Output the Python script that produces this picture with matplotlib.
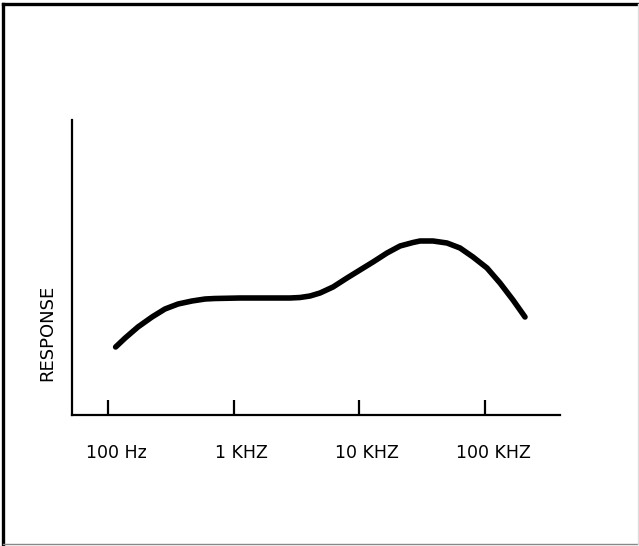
import matplotlib
matplotlib.use("Agg")
import matplotlib.pyplot as plt
import matplotlib.transforms as mtransforms
from matplotlib.lines import Line2D

# Data (frequency in Hz, relative response)
freq_hz = [115, 137, 173, 224, 284, 361, 466, 592, 710, 1123, 1775, 2807,
           3372, 4050, 4864, 6172, 7977, 10120, 12850, 16600, 21070, 26730,
           30390, 38570, 49840, 63240, 80260, 103700, 131600, 167000, 208100]
response = [68, 77, 88, 98, 106, 111, 114, 116, 116.5, 117, 117, 117,
            117.5, 119, 122, 128, 137, 145, 153, 162, 169, 172.5,
            174, 174, 172, 167, 158, 147, 132, 115, 98]

tick_freqs = [100, 1000, 10000, 100000]
tick_labels = ["100 Hz", "1 KHZ", "10 KHZ", "100 KHZ"]
y_label = "RESPONSE"

W, H = 639, 546
fig = plt.figure(figsize=(W / 100, H / 100), dpi=100)
fig.patch.set_facecolor("white")

ax_left, ax_right, ax_bottom, ax_top = 72, 560, 415, 120
ax = fig.add_axes([ax_left / W, (H - ax_bottom) / H,
                   (ax_right - ax_left) / W, (ax_bottom - ax_top) / H])

ax.plot(freq_hz, response, color="black", lw=4.0,
        solid_capstyle="round", solid_joinstyle="round")
ax.set_xscale("log")
ax.set_xlim(10 ** 1.7135, 10 ** 5.5967)
ax.set_ylim(0, 295)

for s in ["top", "right"]:
    ax.spines[s].set_visible(False)
for s in ["left", "bottom"]:
    ax.spines[s].set_linewidth(1.6)
    ax.spines[s].set_color("black")

ax.set_yticks([])
ax.set_xticks(tick_freqs)
ax.set_xticklabels(tick_labels)
ax.minorticks_off()
ax.tick_params(axis="x", which="major", direction="in", length=11,
               width=1.6, pad=21, labelsize=12.5, colors="black")
offset = mtransforms.ScaledTranslation(8 / 100, 0, fig.dpi_scale_trans)
for lab in ax.get_xticklabels():
    lab.set_transform(lab.get_transform() + offset)

fig.text(47 / W, (H - 333) / H, y_label, rotation=90, ha="center",
         va="center", fontsize=13, color="black")

# Outer frame
fig.add_artist(Line2D([3 / W, 3 / W], [0.004, (H - 3.5) / H],
                      transform=fig.transFigure, color="black", lw=2.4))
fig.add_artist(Line2D([3 / W, 1.0], [(H - 3.5) / H, (H - 3.5) / H],
                      transform=fig.transFigure, color="black", lw=2.4))
fig.add_artist(Line2D([3 / W, 1.0], [2 / H, 2 / H],
                      transform=fig.transFigure, color="#888888", lw=1.0))
fig.add_artist(Line2D([(W - 1.5) / W, (W - 1.5) / W], [2 / H, (H - 3.5) / H],
                      transform=fig.transFigure, color="#dddddd", lw=1.0))

fig.savefig("out.png", dpi=100, facecolor="white")
